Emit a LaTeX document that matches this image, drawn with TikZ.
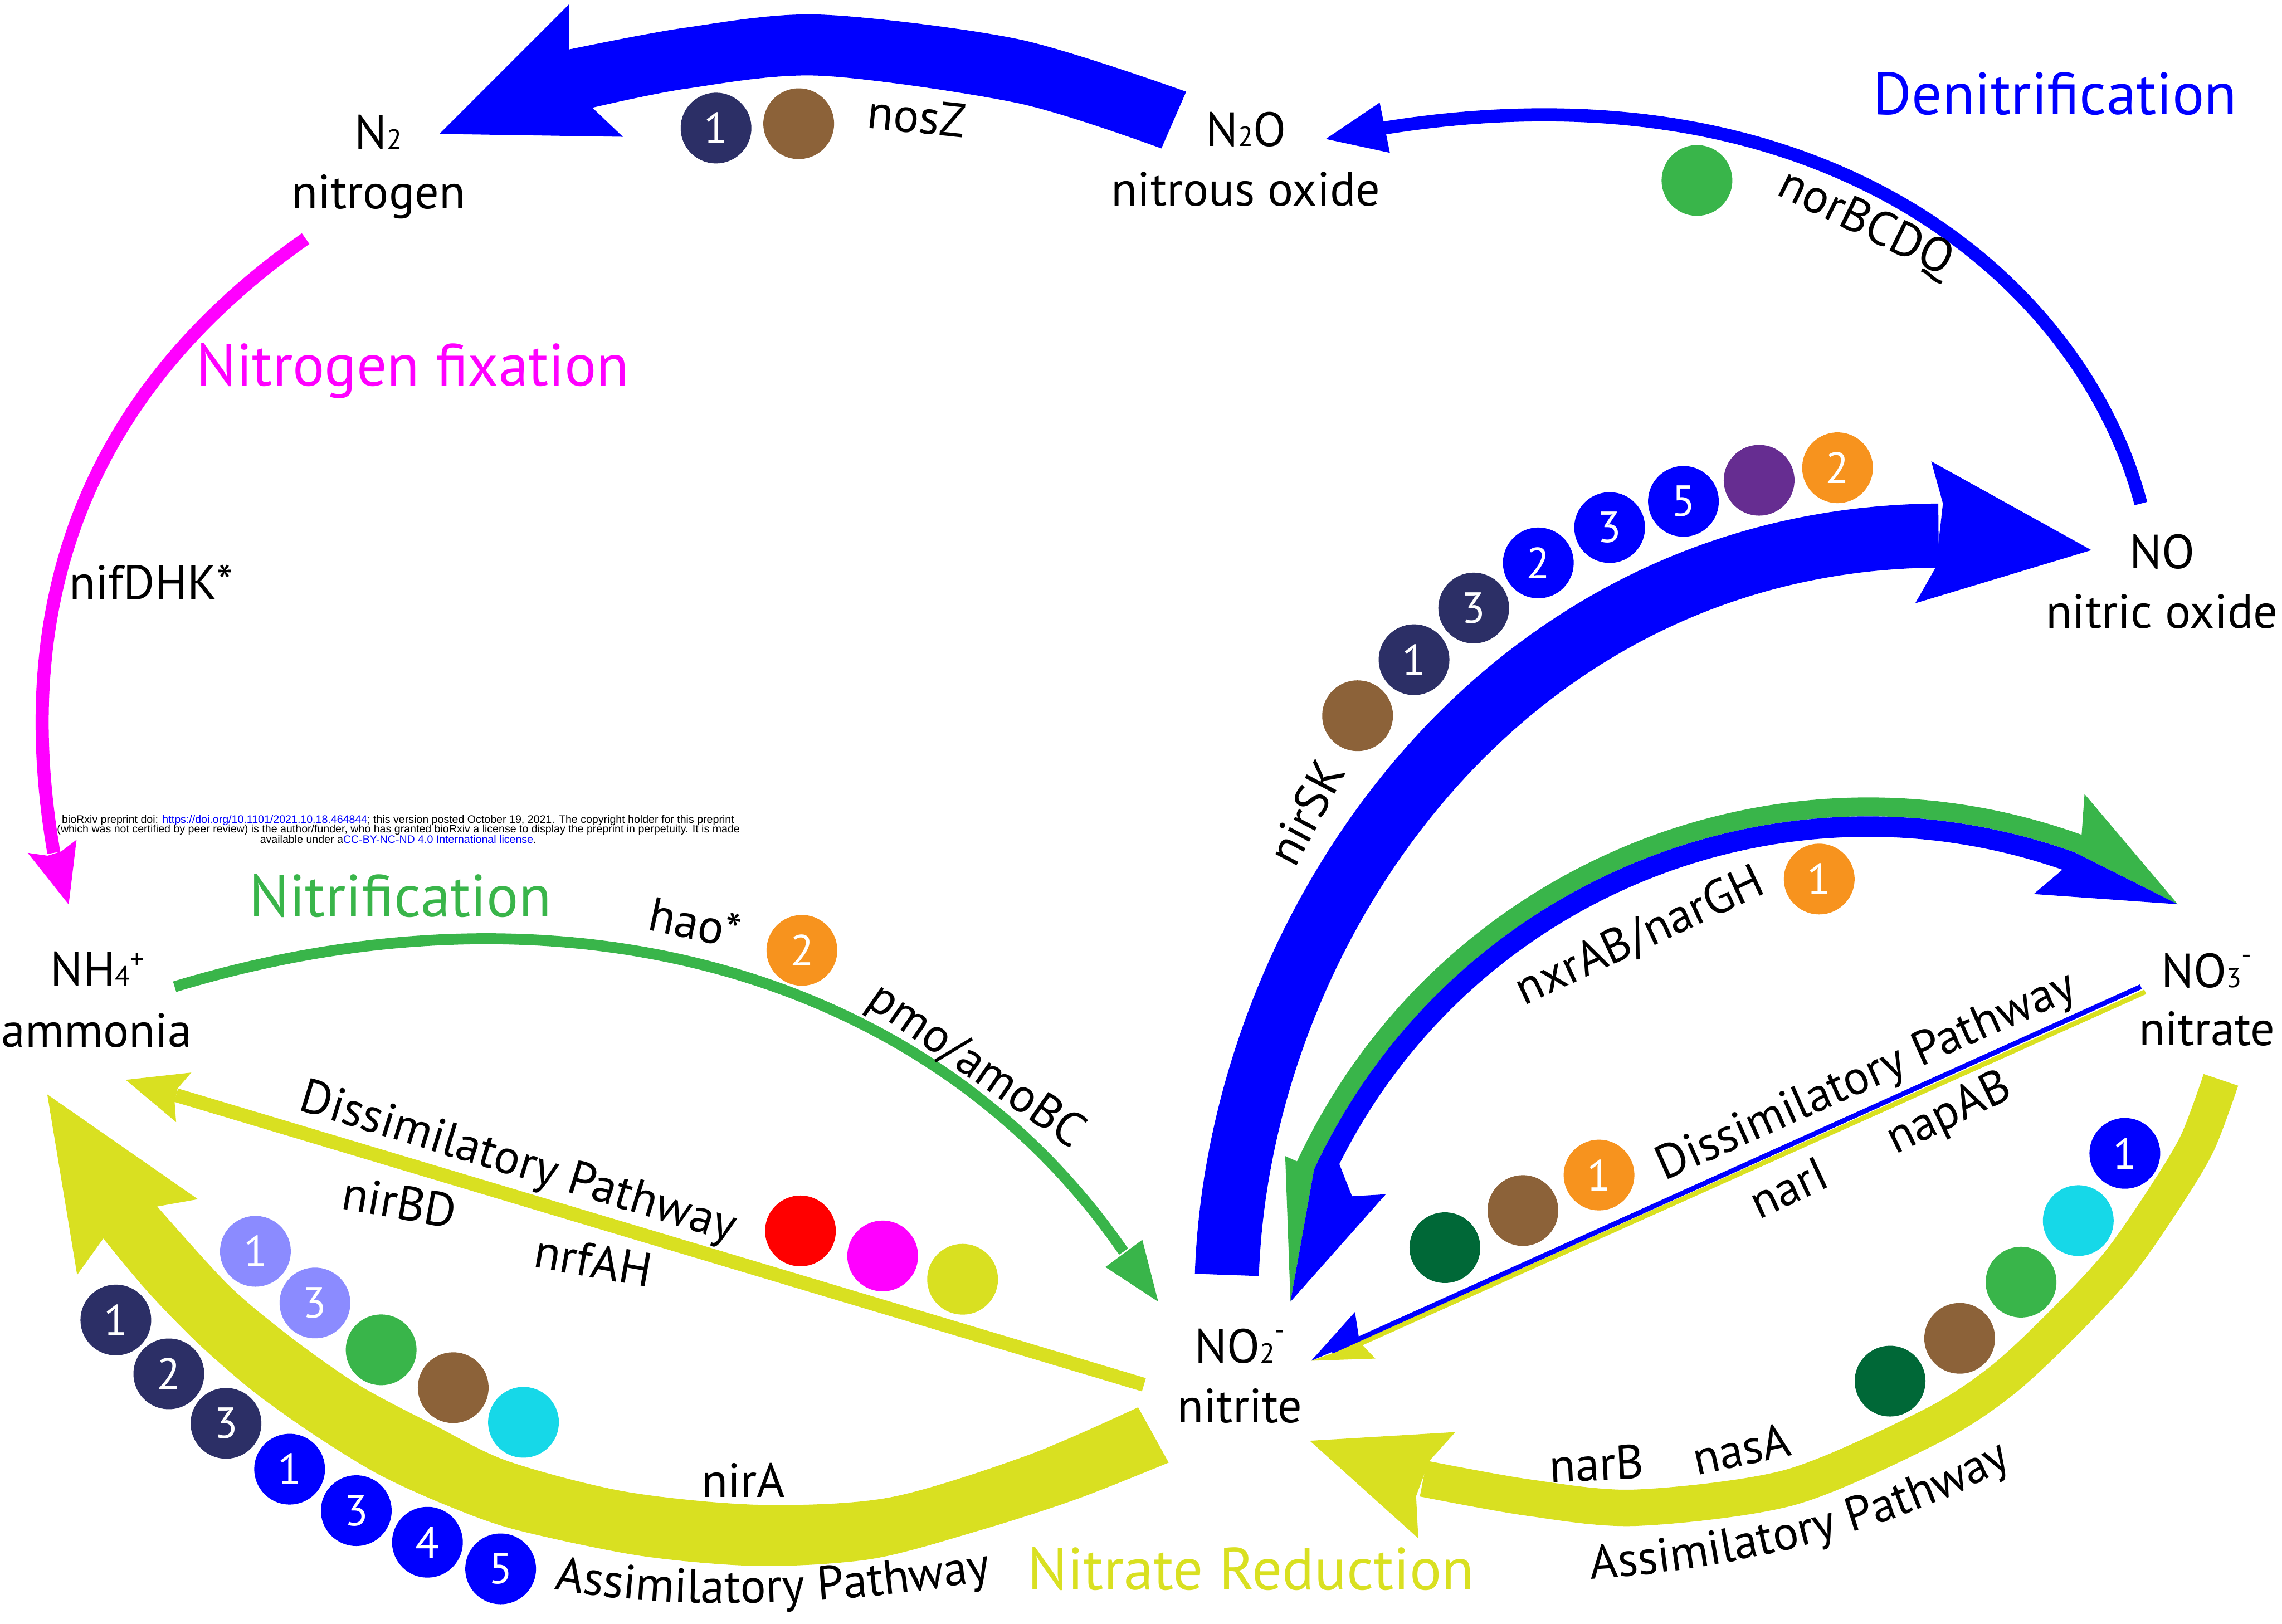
\documentclass[tikz,border=0pt]{standalone}
\usepackage{fontspec}
\setmainfont{PT Sans}
\newfontfamily\arialf{Liberation Sans}
\usetikzlibrary{decorations.text}
\definecolor{cnavy}{HTML}{2C2F66}
\definecolor{cbrown}{HTML}{8C6239}
\definecolor{cblue}{HTML}{0000FF}
\definecolor{cpurple}{HTML}{662D91}
\definecolor{corange}{HTML}{F7931E}
\definecolor{cgreen}{HTML}{39B54A}
\definecolor{cdkgreen}{HTML}{006837}
\definecolor{ccyan}{HTML}{16D8E8}
\definecolor{clav}{HTML}{8B8BFF}
\definecolor{cred}{HTML}{FF0000}
\definecolor{cmag}{HTML}{FF00FF}
\definecolor{cyel}{HTML}{D9E021}
\newcommand\labfont{\fontsize{33}{36}\selectfont}
\newcommand\ttlfont{\fontsize{41}{44}\selectfont}
\newcommand\dotfont{\fontsize{30}{30}\selectfont}
\newcommand\smd[1]{{\fontsize{19}{19}\selectfont #1}}
\newcommand\supd[2]{\raisebox{#1}{\smd{#2}}}
\begin{document}
\begin{tikzpicture}[x=1pt,y=-1pt,
  lab/.style={font=\labfont,inner sep=0pt},
  ttl/.style={font=\ttlfont,inner sep=0pt},
  dot/.style={circle,minimum size=48.6pt,inner sep=0pt,text=white,font=\dotfont},
  tiny/.style={font=\arialf\fontsize{7.5}{7.5}\selectfont,inner sep=0pt}]
\useasboundingbox (0,0) rectangle (1568,1115.67);

% ---- N2O -> N2 big blue arrow
\fill[cblue] plot[smooth] coordinates {(815,63) (700,27) (563,10) (471,19) (391,34)}
  -- (391,3) -- (302,92) -- (428,94) -- (407,74)
  -- plot[smooth] coordinates {(407,74) (471,61) (563,52) (700,71) (798,102)} -- cycle;

% ---- NO -> N2O thin blue arrow
\coordinate (norS) at (1471,346);
\coordinate (norE) at (951,88);
\draw[cblue,line width=9] (norS) .. controls (1430,190) and (1250,40) .. (norE);
\fill[cblue] (948,70.5) -- (911,95.5) -- (955,105) -- cycle;

% ---- NO2 -> NO big blue arrow
\coordinate (skS) at (843,876);
\coordinate (skE) at (1332,368);
\draw[cblue,line width=44] (skS) .. controls (851,640) and (1030,370) .. (skE);
\fill[cblue] (1335,346) -- (1327,317) -- (1437,378) -- (1316,414.5) -- (1330,390) -- cycle;

% ---- NO2 <-> NO3 green / blue double arc (circle centre 1283.6,981)
\fill[cgreen] (891.2,798) arc[start angle=-155,end angle=-70.2,radius=433]
  -- (1432.3,545.6) -- (1496.3,621.3) -- (1425.9,585.8)
  arc[start angle=-70.2,end angle=-155,radius=420]
  -- (886.7,894.4) -- (883.1,794.4) -- cycle;
\fill[cblue] (902.95,803.5) arc[start angle=-155,end angle=-70.2,radius=420]
  -- (1496.3,621.3) -- (1397.4,614.3) -- (1417.1,597.6)
  arc[start angle=-70.8,end angle=-153.5,radius=406]
  -- (929,822) -- (952.2,820.6) -- (886.7,894.4) -- cycle;

% ---- NO3 -> NO2 dissimilatory straight lines
\draw[cyel,line width=3.4] (1474,681.5) -- (915,932);
\fill[cyel] (935,923) -- (945,933.5) -- (901,935) -- cycle;
\draw[cblue,line width=3.4] (1471,678) -- (915,928.5);
\fill[cblue] (931,901.5) -- (901,935) -- (934,921) -- cycle;

% ---- NO3 -> NO2 assimilatory yellow arrow
\draw[cyel,line width=25] plot[smooth] coordinates {(1526,742) (1510,785) (1488,822) (1456,868) (1417,910) (1375,949) (1327,980) (1230,1022) (1124,1036) (1050,1029) (978,1016)};
\fill[cyel] (982,1004) -- (1000,984) -- (900,990) -- (974.5,1057) -- (973,1028) -- cycle;

% ---- NO2 -> NH4 assimilatory big yellow arrow
\fill[cyel] plot[smooth] coordinates {(782,967) (706,1000) (611,1029) (522,1034) (430,1025) (349,1004) (298,979) (247,952) (200,919) (157,883) (108,829)}
  -- (136,824) -- (32.5,752) -- (53,876) -- (71,851)
  -- plot[smooth] coordinates {(71,851) (101,887) (136,923) (174,956) (216,986) (260,1013) (306,1034) (354,1051) (440,1069) (522,1076) (600,1071) (675,1051) (740,1030) (803,1005)} -- cycle;

% ---- NO2 -> NH4 dissimilatory yellow line
\draw[cyel,line width=9.5] (786,951.5) -- (121,752.5);
\fill[cyel] (122,748) -- (131.4,737) -- (86.4,742) -- (121,771) -- (120,757.5) -- cycle;

% ---- NH4 -> NO2 nitrification green
\coordinate (nitS) at (120,678);
\coordinate (nitE) at (772,860);
\draw[cgreen,line width=7.5] (nitS) .. controls (387,597) and (640,668) .. (nitE);
\fill[cgreen] (759.5,870.6) -- (795.8,894.4) -- (784.9,851.9) -- cycle;

% ---- N2 -> NH4 nitrogen fixation magenta
\coordinate (fixS) at (210,164);
\coordinate (fixE) at (37,586);
\draw[cmag,line width=9] (fixS) .. controls (80,255) and (3,389) .. (fixE);
\fill[cmag] (32.7,588) -- (19,586) -- (47.2,621.5) -- (52.6,577) -- (42.2,585) -- cycle;

% ---- circles
\node[dot,fill=cnavy] (t1) at (492,88) {1};
\node[dot,fill=cbrown] (t2) at (548.8,85) {};
\node[dot,fill=cgreen] (nor1) at (1166,124) {};
\node[dot,fill=cbrown] (sk1) at (932.8,491.8) {};
\node[dot,fill=cnavy] (sk2) at (971.6,453.3) {1};
\node[dot,fill=cnavy] (sk3) at (1012.6,417.8) {3};
\node[dot,fill=cblue] (sk4) at (1057,386.8) {2};
\node[dot,fill=cblue] (sk5) at (1106,362.5) {3};
\node[dot,fill=cblue] (sk6) at (1156.7,344.5) {5};
\node[dot,fill=cpurple] (sk7) at (1208.7,330) {};
\node[dot,fill=corange] (sk8) at (1262.6,321.4) {2};
\node[dot,fill=corange] (nx1) at (1250,604) {1};
\node[dot,fill=corange] (ha1) at (551,653) {2};
\node[dot,fill=cred] (dl1) at (550,845.8) {};
\node[dot,fill=cmag] (dl2) at (606.5,863) {};
\node[dot,fill=cyel] (dl3) at (661.4,879) {};
\node[dot,fill=clav] (al1) at (175.5,859.8) {1};
\node[dot,fill=clav] (al2) at (216.4,895.3) {3};
\node[dot,fill=cgreen] (al3) at (261.9,927.5) {};
\node[dot,fill=cbrown] (al4) at (311.4,953.5) {};
\node[dot,fill=ccyan] (al5) at (359.7,977.3) {};
\node[dot,fill=cnavy] (ab1) at (79.6,907) {1};
\node[dot,fill=cnavy] (ab2) at (116,944) {2};
\node[dot,fill=cnavy] (ab3) at (155.3,978) {3};
\node[dot,fill=cblue] (ab4) at (199,1009.5) {1};
\node[dot,fill=cblue] (ab5) at (244.8,1038) {3};
\node[dot,fill=cblue] (ab6) at (293.7,1059.7) {4};
\node[dot,fill=cblue] (ab7) at (344,1078) {5};
\node[dot,fill=cdkgreen] (dr1) at (992.8,857.3) {};
\node[dot,fill=cbrown] (dr2) at (1046.4,831.8) {};
\node[dot,fill=corange] (dr3) at (1098.7,807.4) {1};
\node[dot,fill=cblue] (ar1) at (1460,792.5) {1};
\node[dot,fill=ccyan] (ar2) at (1428,838.7) {};
\node[dot,fill=cgreen] (ar3) at (1388.7,881) {};
\node[dot,fill=cbrown] (ar4) at (1346.5,919.6) {};
\node[dot,fill=cdkgreen] (ar5) at (1298.7,949) {};

% ---- species labels
\node[lab] (n2a) at (260,91) {N\smd{2}};
\node[lab] (n2b) at (260,135) {nitrogen};
\node[lab] (n2oa) at (856,89) {N\smd{2}O};
\node[lab] (n2ob) at (856,130) {nitrous oxide};
\node[lab] (noa) at (1485.5,379) {NO};
\node[lab] (nob) at (1485.5,420) {nitric oxide};
\node[lab] (no3a) at (1516,667) {NO\smd{3}\supd{16pt}{-}};
\node[lab] (no3b) at (1516.4,707) {nitrate};
\node[lab] (no2a) at (852,925) {NO\smd{2}\supd{16pt}{-}};
\node[lab] (no2b) at (852,966) {nitrite};
\node[lab] (nh4a) at (67,666) {NH\smd{4}\supd{12pt}{+}};
\node[lab] (nh4b) at (66.5,708) {ammonia};

% ---- titles
\node[ttl,text=cblue] (tden) at (1412,64.5) {Denitrification};
\node[ttl,text=cmag] (tfix) at (283.5,255) {Nitrogen fixation};
\node[ttl,text=cgreen] (tnit) at (275,615.6) {Nitrification};
\node[ttl,text=cyel] (tred) at (859.5,1078) {Nitrate Reduction};

% ---- gene labels
\node[lab,rotate=-6] (gnos) at (630,80) {nosZ};
\node[lab,rotate=-26] (gnor) at (1281.6,154) {norBCDQ};
\node[lab] (gnif) at (104,400) {nifDHK*};
\node[lab,rotate=-12] (ghao) at (477.5,634) {hao*};
\node[lab,rotate=-35] (gpmo) at (670,733) {pmo/amoBC};
\node[lab,rotate=-17] (gdisl) at (355.5,800) {Dissimilatory Pathway};
\node[lab,rotate=-10] (gnirbd) at (274.5,826) {nirBD};
\node[lab,rotate=-10] (gnrf) at (407.8,866) {nrfAH};
\node[lab] (gnira) at (510.8,1017) {nirA};
\node[lab,rotate=3] (gnarb) at (1097,1005.7) {narB};
\node[lab,rotate=12] (gnasa) at (1196.5,995.5) {nasA};
\node[lab,rotate=24] (gdisr) at (1282.6,740.5) {Dissimilatory Pathway};
\node[lab,rotate=25] (gnari) at (1228.8,816) {narI};
\node[lab,rotate=26] (gnap) at (1339.5,766) {napAB};
\node[lab,rotate=25] (gnxr) at (1126.8,643.7) {nxrAB/narGH};
\node[lab,rotate=62] (gnirsk) at (897.3,558.3) {nirSK};

\path[decorate,decoration={text along path,text align=center,text={|\labfont|Assimilatory Pathway}}]
  (372,1090) .. controls (450,1106) and (560,1107) .. (690,1084);
\path[decorate,decoration={text along path,text align=center,text={|\labfont|Assimilatory Pathway}}]
  (1090,1085) .. controls (1190,1080) and (1310,1050) .. (1385,1005);

% ---- preprint notice
\node[tiny] (pp1) at (273.5,563.8) {bioRxiv preprint doi: \textcolor{cblue}{https://doi.org/10.1101/2021.10.18.464844}; this version posted October 19, 2021. The copyright holder for this preprint};
\node[tiny] (pp2) at (273.8,570.3) {(which was not certified by peer review) is the author/funder, who has granted bioRxiv a license to display the preprint in perpetuity. It is made};
\node[tiny] (pp3) at (273.6,576.8) {available under a\textcolor{cblue}{CC-BY-NC-ND 4.0 International license}.};
\end{tikzpicture}
\end{document}
